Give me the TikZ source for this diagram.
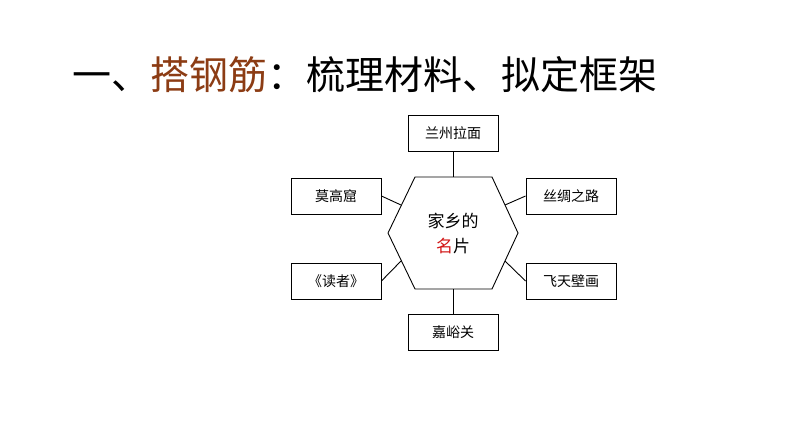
\documentclass[tikz,border=0pt]{standalone}
\usepackage{fontspec}
\newfontfamily\cjk{Noto Sans CJK SC}
\definecolor{titlebrown}{RGB}{140,60,20}
\definecolor{keyred}{RGB}{210,20,20}
\begin{document}
\begin{tikzpicture}[x=1pt,y=-1pt,
  box/.style={draw,line width=0.9pt,minimum width=90pt,minimum height=36pt,inner sep=0pt,font=\cjk\fontsize{14}{16}\selectfont},
  conn/.style={line width=0.9pt}]
\useasboundingbox (0,0) rectangle (794,447);
\fill[white] (0,0) rectangle (794,447);
\node[anchor=base west,inner sep=0pt,font=\cjk\fontsize{39}{42}\selectfont] (title) at (72,89) {一、\textcolor{titlebrown}{搭钢筋}：梳理材料、拟定框架};
% hexagon
\coordinate (h1) at (415,177);
\coordinate (h2) at (492,177);
\coordinate (h3) at (518,233);
\coordinate (h4) at (492,289);
\coordinate (h5) at (415,289);
\coordinate (h6) at (388,233);
\draw[line width=0.9pt] (h1)--(h2)--(h3)--(h4)--(h5)--(h6)--cycle;
\node[align=center,font=\cjk\fontsize{17}{25}\selectfont] (center) at (453,233) {家乡的\\\textcolor{keyred}{名}片};
\coordinate (et) at (453,177);
\coordinate (eb) at (453,289);
\coordinate (eul) at (401,205);
\coordinate (eur) at (505,205);
\coordinate (ell) at (401,261);
\coordinate (elr) at (505,261);
\node[box] (b1) at (453,133) {兰州拉面};
\node[box] (b2) at (336,196) {莫高窟};
\node[box] (b3) at (571,196) {丝绸之路};
\node[box] (b4) at (336,281) {《读者》};
\node[box] (b5) at (571,281) {飞天壁画};
\node[box] (b6) at (453,332) {嘉峪关};
\draw[conn] (b1.south) -- (et);
\draw[conn] (b6.north) -- (eb);
\draw[conn] (b2.east) -- (eul);
\draw[conn] (b3.west) -- (eur);
\draw[conn] (b4.east) -- (ell);
\draw[conn] (b5.west) -- (elr);
\end{tikzpicture}
\end{document}
